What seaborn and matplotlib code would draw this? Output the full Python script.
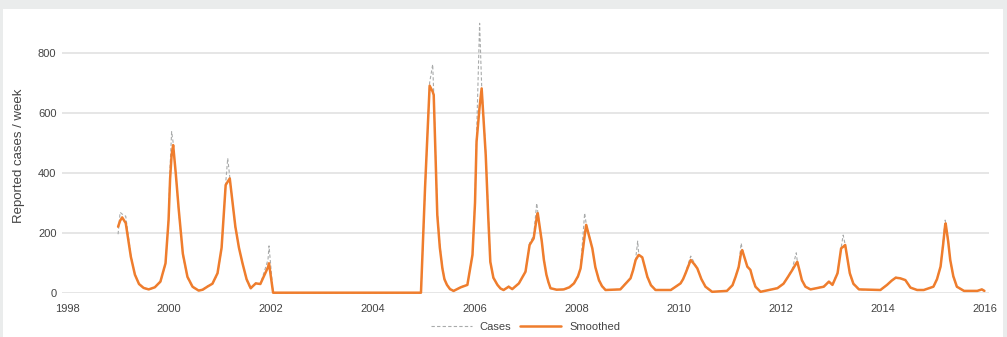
import matplotlib
matplotlib.use("Agg")
import matplotlib.pyplot as plt
from matplotlib.patches import Rectangle
import seaborn as sns
import pandas as pd

# Weekly case reports, sampled at decimal-year dates (one row per season)
dates = [
    1999.00, 1999.04, 1999.08, 1999.15, 1999.25, 1999.33, 1999.41, 1999.50, 1999.60, 1999.72, 1999.83, 1999.93, 1999.99,
    2000.02, 2000.05, 2000.08, 2000.13, 2000.19, 2000.27, 2000.36, 2000.46, 2000.58, 2000.66, 2000.75, 2000.85, 2000.95,
    2001.03, 2001.11, 2001.15, 2001.19, 2001.30, 2001.37, 2001.44, 2001.52, 2001.60, 2001.70, 2001.79, 2001.94, 2001.96,
    2002.04, 2004.94,
    2005.02, 2005.11, 2005.17, 2005.19, 2005.26, 2005.31, 2005.36, 2005.40, 2005.45, 2005.51, 2005.58, 2005.72, 2005.85, 2005.95,
    2006.00, 2006.03, 2006.09, 2006.13, 2006.21, 2006.26, 2006.30, 2006.36, 2006.44, 2006.50, 2006.56, 2006.66, 2006.73, 2006.86, 2006.99,
    2007.07, 2007.15, 2007.21, 2007.23, 2007.31, 2007.35, 2007.40, 2007.44, 2007.48, 2007.60, 2007.74, 2007.85, 2007.94,
    2008.02, 2008.07, 2008.15, 2008.18, 2008.30, 2008.36, 2008.43, 2008.49, 2008.56, 2008.85,
    2009.05, 2009.10, 2009.15, 2009.19, 2009.21, 2009.28, 2009.33, 2009.38, 2009.45, 2009.54, 2009.84,
    2010.03, 2010.08, 2010.13, 2010.23, 2010.30, 2010.36, 2010.44, 2010.52, 2010.65, 2010.94,
    2011.05, 2011.11, 2011.17, 2011.22, 2011.24, 2011.34, 2011.40, 2011.45, 2011.50, 2011.60, 2011.93,
    2012.05, 2012.12, 2012.22, 2012.30, 2012.32, 2012.37, 2012.41, 2012.48, 2012.58, 2012.84, 2012.94,
    2013.01, 2013.11, 2013.18, 2013.22, 2013.26, 2013.35, 2013.42, 2013.53, 2013.95,
    2014.08, 2014.17, 2014.25, 2014.34, 2014.44, 2014.54, 2014.67, 2014.80, 2014.99,
    2015.06, 2015.13, 2015.18, 2015.22, 2015.23, 2015.28, 2015.32, 2015.38, 2015.45, 2015.59, 2015.85, 2015.94, 2015.99,
]
smoothed = [
    220, 240, 251, 232, 120, 60, 29, 16, 11, 18, 37, 98, 242,
    380, 460, 492, 400, 276, 130, 53, 20, 7, 10, 20, 30, 65,
    150, 359, 370, 381, 220, 150, 98, 45, 15, 31, 29, 85, 98,
    0, 0,
    350, 690, 670, 659, 259, 150, 81, 45, 26, 12, 6, 18, 26, 126,
    300, 503, 620, 681, 459, 250, 103, 50, 26, 14, 9, 20, 12, 31, 70,
    159, 181, 250, 265, 170, 110, 60, 35, 15, 10, 11, 18, 31,
    55, 81, 190, 226, 148, 85, 42, 22, 9, 11,
    48, 75, 109, 120, 126, 118, 85, 53, 25, 9, 9,
    31, 45, 65, 109, 95, 81, 45, 20, 3, 6,
    25, 53, 85, 135, 142, 87, 76, 45, 20, 3, 15,
    30, 48, 75, 98, 103, 70, 42, 20, 11, 20, 37,
    26, 65, 148, 153, 159, 65, 30, 11, 9,
    26, 40, 50, 48, 42, 17, 9, 9, 20,
    45, 87, 160, 225, 231, 170, 109, 55, 20, 6, 6, 11, 6,
]
cases = [
    195, 268, 262, 255, 125, 62, 30, 15, 10, 17, 35, 95, 250,
    420, 537, 500, 395, 270, 125, 50, 18, 7, 12, 22, 28, 62,
    145, 365, 448, 385, 215, 148, 100, 42, 12, 33, 28, 110, 156,
    0, 0,
    340, 700, 761, 665, 270, 160, 85, 48, 25, 10, 5, 20, 25, 130,
    310, 520, 898, 690, 470, 260, 100, 48, 25, 14, 8, 22, 12, 30, 72,
    165, 190, 298, 270, 175, 115, 62, 33, 14, 10, 10, 17, 30,
    52, 85, 265, 230, 150, 88, 40, 20, 8, 12,
    50, 78, 112, 172, 130, 115, 88, 50, 24, 8, 10,
    30, 44, 68, 122, 100, 80, 46, 18, 3, 6,
    24, 55, 88, 165, 145, 85, 78, 44, 18, 3, 16,
    30, 50, 78, 133, 105, 68, 40, 19, 10, 22, 35,
    28, 68, 150, 192, 160, 62, 28, 10, 9,
    26, 40, 52, 47, 42, 16, 9, 9, 20,
    45, 90, 170, 242, 232, 175, 105, 52, 18, 6, 6, 12, 5,
]
year_ticks = [1998, 2000, 2002, 2004, 2006, 2008, 2010, 2012, 2014, 2016]
count_ticks = [0, 200, 400, 600, 800]

df = pd.DataFrame({"date": dates, "Cases": cases, "Smoothed": smoothed})

sns.set_theme(style="white")
plt.rcParams["font.family"] = ["Liberation Sans", "DejaVu Sans"]

text_color = "#444444"
orange = "#ef7d2d"

fig = plt.figure(figsize=(10.07, 3.37), dpi=100, facecolor="#eaecec")
fig.patches.append(Rectangle((3 / 1007, 0), 1000 / 1007, 328 / 337,
                             transform=fig.transFigure, facecolor="white",
                             edgecolor="none", zorder=-10))

ax = fig.add_axes([62 / 1007, 1 - 292.7 / 337, 927 / 1007, 272.7 / 337])
ax.set_zorder(1)
ax.set_facecolor("none")

sns.lineplot(data=df, x="date", y="Cases", ax=ax, color="#a9abab",
             linewidth=0.8, linestyle=(0, (3, 2)), label="Cases",
             clip_on=False, zorder=3)
sns.lineplot(data=df, x="date", y="Smoothed", ax=ax, color=orange,
             linewidth=1.8, label="Smoothed", clip_on=False, zorder=4)

ax.set_xlim(1997.9, 2016.08)
ax.set_ylim(0, 909)
ax.set_xticks(year_ticks)
ax.set_yticks(count_ticks)
ax.set_xticklabels([str(y) for y in year_ticks])
ax.set_yticklabels([str(v) for v in count_ticks])
ax.tick_params(axis="both", length=0, labelsize=8, colors=text_color)
ax.tick_params(axis="x", pad=8)
ax.tick_params(axis="y", pad=4)

ax.grid(axis="y", color="#dfdfdf", linewidth=1.1)
ax.grid(axis="x", visible=False)
for s in ax.spines.values():
    s.set_visible(False)

ax.set_xlabel("")
ax.set_ylabel("Reported cases / week", fontsize=9.5, color=text_color)
ax.yaxis.set_label_coords(-(62 - 19) / 927, 0.5 + (157 - 156.4) / 272.7)
ax.yaxis.label.set_verticalalignment("center")

leg = ax.legend(loc="center", bbox_to_anchor=(0.5, -(327 - 292.7) / 272.7),
                ncol=2, frameon=False, fontsize=8, handlelength=3.7,
                handletextpad=0.7, columnspacing=0.8)
for t in leg.get_texts():
    t.set_color(text_color)

fig.savefig("out.png", dpi=100, facecolor=fig.get_facecolor())
